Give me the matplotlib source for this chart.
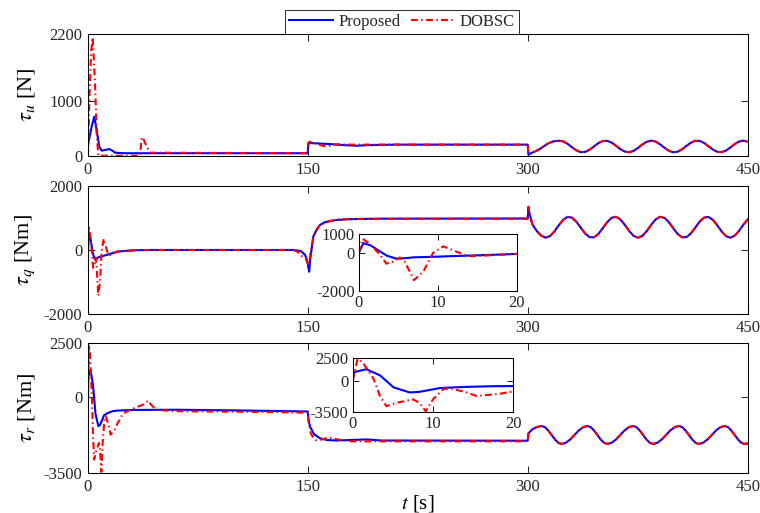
import matplotlib
matplotlib.use('Agg')
import matplotlib.pyplot as plt
from matplotlib.lines import Line2D

plt.rcParams['font.family'] = 'Liberation Serif'
plt.rcParams['mathtext.fontset'] = 'stix'
plt.rcParams['axes.unicode_minus'] = False
plt.rcParams['font.size'] = 12
plt.rcParams['text.color'] = '#262626'
plt.rcParams['xtick.color'] = '#262626'
plt.rcParams['ytick.color'] = '#262626'
plt.rcParams['xtick.direction'] = 'in'
plt.rcParams['ytick.direction'] = 'in'
plt.rcParams['xtick.top'] = True
plt.rcParams['ytick.right'] = True
plt.rcParams['xtick.major.size'] = 5
plt.rcParams['ytick.major.size'] = 5
plt.rcParams['xtick.major.width'] = 0.75
plt.rcParams['ytick.major.width'] = 0.75
plt.rcParams['axes.linewidth'] = 0.75

# ---- tau_u [N] ----
t_u_prop = [0, 0.2, 2.5, 4.3, 5.9, 7.7, 9.3, 12, 14.5, 17, 18.4, 25, 149.8,
            150.3, 165, 175, 183, 190, 210, 299.8]
u_prop = [180, 229, 529, 709, 469, 168, 96, 110, 126, 90, 60, 50, 50,
          235, 215, 195, 185, 195, 205, 205]
t_u_dob = [0, 0.9, 2.2, 3.2, 4.8, 5.9, 7.0, 20, 35.5, 36.5, 37.3, 40, 42.3, 149.8,
           150.3, 151.4, 153.6, 158, 162.7, 169, 180, 299.8]
u_dob = [0, 1010, 1900, 2140, 1310, 410, 5, 5, 5, 320, 340, 168, 60, 50,
         240, 258, 240, 200, 168, 210, 205, 205]
t_u_wave = [300.3, 302, 305, 308, 311, 314, 317, 321, 324, 327, 330, 333, 336, 339,
            342, 345, 348, 351, 354, 357, 360, 363, 366, 369, 372, 375, 378, 381,
            384, 387, 390, 393, 396, 399, 402, 405, 408, 411, 414, 417, 420, 423,
            426, 429, 432, 435, 438, 441, 444, 447, 450]
u_wave = [20, 50, 85, 125, 180, 230, 262, 276, 264, 219, 158, 101, 70, 74,
          113, 173, 232, 270, 274, 242, 185, 124, 79, 68, 92, 145, 208, 257,
          277, 260, 212, 150, 95, 68, 77, 120, 181, 238, 273, 272, 236, 177,
          117, 76, 69, 98, 153, 215, 262, 277, 255]

# ---- tau_q [Nm] ----
t_q_prop = [0, 0.6, 1.5, 2.7, 3.6, 4.8, 6.0, 6.9, 9.4, 13, 20, 30, 40, 140, 145,
            148, 149.5, 150.8, 151.5, 153.6, 156, 158.2, 161, 165, 170, 180, 200, 299.8]
q_prop = [0, 520, 400, 84, -150, -300, -270, -230, -200, -150, -50, -10, 0, 0, -30,
          -150, -350, -680, -300, 417, 650, 780, 860, 906, 940, 965, 980, 985]
t_q_dob = [0, 0.5, 1.4, 2.7, 3.5, 4.4, 5.2, 5.8, 6.5, 7.0, 8.2, 9.4, 10.7, 12.8,
           14.1, 15.4, 20, 30, 40, 140, 143, 146, 148.5, 150.5, 152, 154, 158, 165,
           170, 180, 299.8]
q_dob = [0, 750, 480, -90, -560, -450, -240, -440, -1000, -1430, -965, 0, 350, 0,
         -170, -150, -50, -20, 0, 0, -60, -200, -260, -500, 0, 450, 780, 906,
         950, 970, 975]
t_q_wave = [300.3, 301, 303, 306, 309, 312, 315, 318, 321, 324, 327, 330, 333, 336,
            339, 342, 345, 348, 351, 354, 357, 360, 363, 366, 369, 372, 375, 378,
            381, 384, 387, 390, 393, 396, 399, 402, 405, 408, 411, 414, 417, 420,
            423, 426, 429, 432, 435, 438, 441, 444, 447, 450]
q_wave = [1350, 1150, 800, 590, 449, 384, 434, 581, 774, 945, 1035, 1011, 883, 695,
          513, 401, 397, 503, 683, 872, 1006, 1037, 954, 787, 593, 441, 384, 441,
          593, 787, 954, 1037, 1006, 872, 683, 503, 397, 401, 513, 695, 883, 1011,
          1035, 945, 774, 581, 434, 384, 449, 606, 800, 963]

# ---- tau_r [Nm] ----
t_r_prop = [0, 0.2, 1.7, 3.4, 5.1, 7.1, 8.3, 10.9, 13.8, 17.3, 20, 30, 60, 100, 149.8,
            150.5, 151.4, 154, 158.2, 163, 170, 190, 200, 299.8]
r_prop = [0, 960, 1270, 580, -770, -1340, -1270, -840, -720, -640, -620, -590, -580,
          -610, -660, -1100, -1360, -1700, -1900, -1980, -2000, -1950, -2000, -2010]
t_r_dob = [0, 0.6, 1.2, 2.6, 3.4, 4.2, 5.5, 7.5, 8.3, 9.1, 10.0, 11.3, 12.2, 14.2,
           15.4, 17.9, 20, 24, 30, 35.5, 38, 41.1, 43, 46.8, 60, 100, 149.8, 150.5,
           152, 155, 158, 162, 165, 170, 180, 299.8]
r_dob = [0, 2420, 2100, 190, -1730, -2880, -2500, -2110, -2500, -3450, -2110, -960,
         -880, -1340, -1730, -1540, -1230, -745, -550, -400, -330, -160, -350, -590,
         -650, -670, -715, -1200, -1700, -1980, -1975, -1900, -1870, -1950, -2040, -2040]
t_r_wave = [300.3, 303, 306, 309.3, 311.6, 313.8, 316.1, 318.4, 320.6, 322.9, 325.8,
            328.8, 331.7, 334.6, 337.6, 340.5, 342.8, 345.0, 347.3, 349.6, 351.8,
            354.1, 357.0, 360.0, 362.9, 365.8, 368.8, 371.7, 374.0, 376.2, 378.5,
            380.8, 383.0, 385.3, 388.2, 391.2, 394.1, 397.0, 400.0, 402.9, 405.2,
            407.4, 409.7, 412.0, 414.2, 416.5, 419.4, 422.4, 425.3, 428.2, 431.2,
            434.1, 436.4, 438.6, 440.9, 443.2, 445.4, 447.7, 450]
r_wave = [-1670, -1480, -1380, -1330, -1386, -1538, -1745, -1953, -2104, -2160, -2104,
          -1953, -1745, -1538, -1386, -1330, -1386, -1538, -1745, -1953, -2104,
          -2160, -2104, -1953, -1745, -1538, -1386, -1330, -1386, -1538, -1745,
          -1953, -2104, -2160, -2104, -1953, -1745, -1538, -1386, -1330, -1386,
          -1538, -1745, -1953, -2104, -2160, -2104, -1953, -1745, -1538, -1386,
          -1330, -1386, -1538, -1745, -1953, -2104, -2160, -2130]

x_ticks = [0, 150, 300, 450]
labels = ['Proposed', 'DOBSC']

blue = '#0000ff'
red = '#ff0000'
dd = (3.3, 1.6, 0.7, 1.6)


def draw(ax, tp, yp, td, yd, tw, yw):
    ax.plot(tp + tw, yp + yw, color=blue, lw=1.5)
    ax.plot(td + tw, yd + yw, color=red, lw=1.5, dashes=dd)


fig = plt.figure(figsize=(7.6, 5.13), dpi=100)
L, W = 88 / 760, 660 / 760
ax1 = fig.add_axes([L, 1 - 156 / 513, W, 122 / 513])
ax2 = fig.add_axes([L, 1 - 314 / 513, W, 128 / 513])
ax3 = fig.add_axes([L, 1 - 473 / 513, W, 130 / 513])

draw(ax1, t_u_prop, u_prop, t_u_dob, u_dob, t_u_wave, u_wave)
draw(ax2, t_q_prop, q_prop, t_q_dob, q_dob, t_q_wave, q_wave)
draw(ax3, t_r_prop, r_prop, t_r_dob, r_dob, t_r_wave, r_wave)

ax1.set_ylim(0, 2200)
ax1.set_yticks([0, 1000, 2200])
ax2.set_ylim(-2000, 2000)
ax2.set_yticks([-2000, 0, 2000])
ax3.set_ylim(-3500, 2500)
ax3.set_yticks([-3500, 0, 2500])

for ax, lab in zip([ax1, ax2, ax3],
                   [r'$\tau_u$ [N]', r'$\tau_q$ [Nm]', r'$\tau_r$ [Nm]']):
    ax.set_xlim(0, 450)
    ax.set_xticks(x_ticks)
    ax.set_ylabel(lab, fontsize=16)
    ax.yaxis.set_label_coords(-0.077, 0.5)
    ax.tick_params(labelsize=12, pad=4)

ax3.set_xlabel(r'$t$ [s]', fontsize=15, labelpad=-1)

# insets
in2 = fig.add_axes([358.7 / 760, 1 - 291 / 513, 158 / 760, 57 / 513])
draw(in2, t_q_prop, q_prop, t_q_dob, q_dob, t_q_wave, q_wave)
in2.set_xlim(0, 20)
in2.set_ylim(-2000, 1000)
in2.set_yticks([-2000, 0, 1000])

in3 = fig.add_axes([352.7 / 760, 1 - 411.7 / 513, 160.6 / 760, 53.4 / 513])
draw(in3, t_r_prop, r_prop, t_r_dob, r_dob, t_r_wave, r_wave)
in3.set_xlim(0, 20)
in3.set_ylim(-3500, 2500)
in3.set_yticks([-3500, 0, 2500])

for ax in [in2, in3]:
    ax.set_xticks([0, 10, 20])
    ax.tick_params(labelsize=12, pad=3, length=4)

handles = [Line2D([], [], color=blue, lw=1.5),
           Line2D([], [], color=red, lw=1.5, dashes=dd)]
leg = fig.legend(handles, labels, loc='lower center', ncol=2,
                 bbox_to_anchor=(402 / 760, 1 - 34 / 513), fontsize=12,
                 frameon=True, fancybox=False, edgecolor='black',
                 handlelength=2.6, columnspacing=0.6, handletextpad=0.35,
                 borderpad=0.25, borderaxespad=0)
leg.get_frame().set_linewidth(0.75)

fig.savefig('out.png', dpi=100)
